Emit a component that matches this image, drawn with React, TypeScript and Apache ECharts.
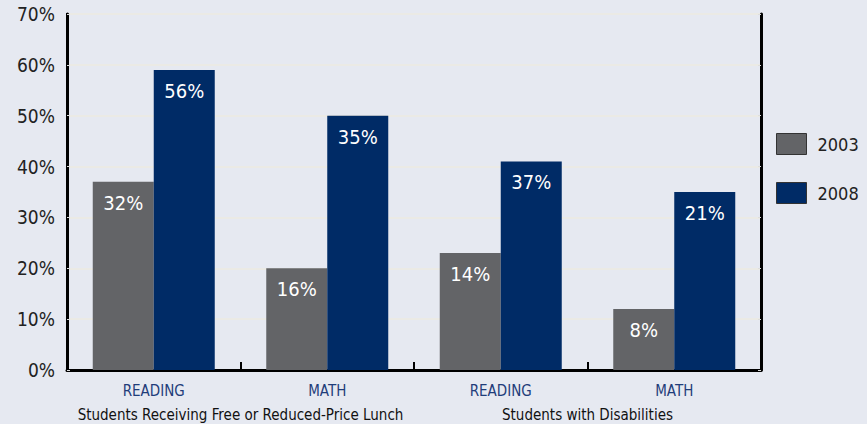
import React, { useEffect, useRef } from "react";
import * as echarts from "echarts";

const categories = ["READING", "MATH", "READING", "MATH"];
const groups = ["Students Receiving Free or Reduced-Price Lunch", "Students with Disabilities"];
const seriesNames = ["2003", "2008"];
const bars2003 = [37, 20, 23, 12];
const bars2008 = [59, 50, 41, 35];
const labels2003 = ["32%", "16%", "14%", "8%"];
const labels2008 = ["56%", "35%", "37%", "21%"];
const yTicks = [0, 10, 20, 30, 40, 50, 60, 70];

const FONT = "'Liberation Sans Narrow', 'DejaVu Sans Condensed', sans-serif";
const BG = "#e6e9f1";

export default function App() {
  const ref = useRef<HTMLDivElement>(null);
  useEffect(() => {
    document.body.style.margin = "0";
    document.body.style.background = BG;
    const chart = echarts.init(ref.current!, undefined, { renderer: "svg" });
    const labelCfg = (arr: string[]) => ({
      show: true,
      position: "insideTop" as const,
      distance: 11,
      color: "#ffffff",
      fontFamily: FONT,
      fontSize: 20,
      formatter: (p: any) => arr[p.dataIndex],
    });
    chart.setOption({
      animation: false,
      backgroundColor: BG,
      grid: {
        left: 67,
        right: 106,
        top: 14,
        bottom: 54,
        show: true,
        borderColor: "#000",
        borderWidth: 2,
        backgroundColor: "transparent",
      },
      legend: {
        orient: "vertical",
        left: 776,
        top: 133,
        padding: 0,
        itemWidth: 30,
        itemHeight: 21,
        itemGap: 27,
        icon: "rect",
        data: seriesNames,
        itemStyle: { borderColor: "#333", borderWidth: 1 },
        textStyle: { fontFamily: FONT, fontSize: 18, color: "#222", padding: [0, 0, 0, 6] },
      },
      xAxis: [
        {
          type: "category",
          data: categories,
          position: "bottom",
          axisLine: { show: true, lineStyle: { color: "#000", width: 3 } },
          axisTick: { show: true, inside: true, length: 8, lineStyle: { color: "#000", width: 2 } },
          axisLabel: { color: "#1f3d7a", fontFamily: FONT, fontSize: 15, margin: 13, interval: 0 },
          splitLine: { show: false },
        },
        {
          type: "category",
          data: groups,
          position: "bottom",
          axisLine: { show: false },
          axisTick: { show: false },
          axisLabel: { color: "#111", fontFamily: FONT, fontSize: 15, margin: 37, interval: 0, hideOverlap: false },
          splitLine: { show: false },
        },
      ],
      yAxis: [
        {
          type: "value",
          min: 0,
          max: 70,
          interval: 10,
          axisLine: { show: true, lineStyle: { color: "#000", width: 3 } },
          axisTick: { show: true, inside: true, length: 3, lineStyle: { color: "#ddd" } },
          axisLabel: {
            color: "#222",
            fontFamily: FONT,
            fontSize: 19,
            margin: 12,
            formatter: (v: number) => (yTicks.includes(v) ? v + "%" : ""),
          },
          splitLine: { show: true, lineStyle: { color: "#ebeae5", width: 2 } },
        },
        {
          type: "value",
          min: 0,
          max: 70,
          interval: 10,
          position: "right",
          axisLine: { show: true, lineStyle: { color: "#000", width: 3 } },
          axisTick: { show: true, inside: true, length: 3, lineStyle: { color: "#ddd" } },
          axisLabel: { show: false },
          splitLine: { show: false },
        },
      ],
      series: [
        {
          name: seriesNames[0],
          type: "bar",
          data: bars2003,
          barWidth: 61,
          barGap: "0%",
          itemStyle: { color: "#636467" },
          label: labelCfg(labels2003),
        },
        {
          name: seriesNames[1],
          type: "bar",
          data: bars2008,
          barWidth: 61,
          barGap: "0%",
          itemStyle: { color: "#002b66" },
          label: labelCfg(labels2008),
        },
      ],
    });
    return () => chart.dispose();
  }, []);
  return <div ref={ref} style={{ width: 867, height: 424 }} />;
}
